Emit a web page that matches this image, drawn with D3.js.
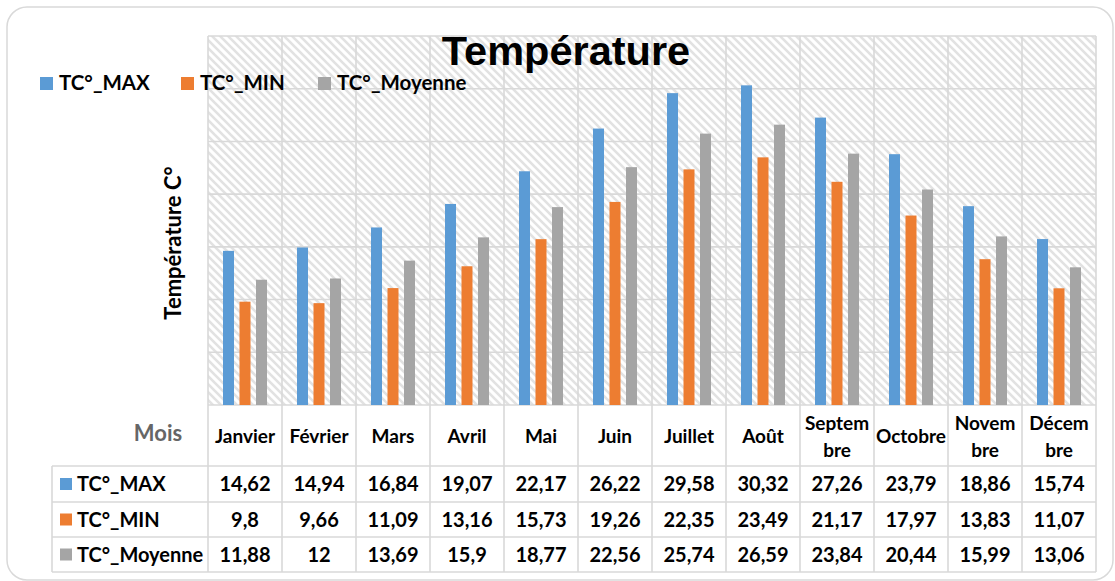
<!DOCTYPE html>
<html><head><meta charset="utf-8">
<script src="https://cdn.jsdelivr.net/npm/d3@7"></script>
<style>html,body{margin:0;padding:0;background:#fff;}svg{display:block;}</style>
</head><body>
<svg id="c" width="1115" height="581"></svg>
<script>
const months = ["Janvier","Février","Mars","Avril","Mai","Juin","Juillet","Août","Septembre","Octobre","Novembre","Décembre"];
const monthLabels = [["Janvier"],["Février"],["Mars"],["Avril"],["Mai"],["Juin"],["Juillet"],["Août"],["Septem","bre"],["Octobre"],["Novem","bre"],["Décem","bre"]];
const seriesNames = ["TC°_MAX","TC°_MIN","TC°_Moyenne"];
const tcMax = [14.62,14.94,16.84,19.07,22.17,26.22,29.58,30.32,27.26,23.79,18.86,15.74];
const tcMin = [9.8,9.66,11.09,13.16,15.73,19.26,22.35,23.49,21.17,17.97,13.83,11.07];
const tcMoy = [11.88,12,13.69,15.9,18.77,22.56,25.74,26.59,23.84,20.44,15.99,13.06];
const yTicks = [0,5,10,15,20,25,30,35];
const colors = ["#5B9BD5","#ED7D31","#A5A5A5"];
const seriesData = [tcMax, tcMin, tcMoy];

const svg = d3.select("#c");
const FONT = "Lato, 'Open Sans', sans-serif";
const fmt = v => String(v).replace(".", ",");

// outer border
svg.append("rect").attr("x",7).attr("y",7).attr("width",1106).attr("height",573)
  .attr("rx",20).attr("fill","#fff").attr("stroke","#d9d9d9").attr("stroke-width",1.5);

// hatch pattern
const defs = svg.append("defs");
const pat = defs.append("pattern").attr("id","hatch").attr("patternUnits","userSpaceOnUse")
  .attr("width",8).attr("height",8);
pat.append("rect").attr("width",8).attr("height",8).attr("fill","#fff");
pat.append("path").attr("d","M-2,-2 L10,10 M-2,6 L2,10 M6,-2 L10,2")
  .attr("stroke","#e2e2e2").attr("stroke-width",2.6);

const L = 208, R = 1096, T = 36, B = 405;
const x = d3.scaleBand().domain(months).range([L, R]).padding(0);
const cw = x.bandwidth();
const xs = d3.scaleBand().domain(seriesNames).range([15, cw - 15]).paddingInner(1/3).paddingOuter(0);
const y = d3.scaleLinear().domain([0,35]).range([B, T]);

svg.append("rect").attr("x",L).attr("y",T).attr("width",R-L).attr("height",B-T).attr("fill","url(#hatch)");

const gridC = "#d9d9d9";
// horizontal gridlines
svg.append("g").selectAll("line").data(yTicks).join("line")
  .attr("x1",L).attr("x2",R).attr("y1",d=>y(d)).attr("y2",d=>y(d))
  .attr("stroke",gridC).attr("stroke-width",1.6);

// table rows
const rowY = [B, 466, 502, 537, 572];
const TL = 52;
// vertical lines (category boundaries)
const bounds = months.map(m => x(m)).concat([R]);
svg.append("g").selectAll("line").data(bounds).join("line")
  .attr("x1",d=>d).attr("x2",d=>d).attr("y1",T).attr("y2",rowY[4])
  .attr("stroke",gridC).attr("stroke-width",1.6);
// horizontal table lines
svg.append("g").selectAll("line").data(rowY.slice(1)).join("line")
  .attr("x1",TL).attr("x2",R).attr("y1",d=>d).attr("y2",d=>d)
  .attr("stroke",gridC).attr("stroke-width",1.6);
svg.append("line").attr("x1",TL).attr("x2",TL).attr("y1",rowY[1]).attr("y2",rowY[4])
  .attr("stroke",gridC).attr("stroke-width",1.6);

// bars
seriesData.forEach((vals, si) => {
  svg.append("g").selectAll("rect").data(vals).join("rect")
    .attr("x",(d,i)=>x(months[i]) + xs(seriesNames[si]))
    .attr("width",xs.bandwidth())
    .attr("y",d=>y(d)).attr("height",d=>y(0)-y(d))
    .attr("fill",colors[si]);
});

// title
svg.append("text").attr("x",566).attr("y",65).attr("text-anchor","middle")
  .attr("font-family","'Liberation Sans', Arial, sans-serif").attr("font-weight","bold")
  .attr("font-size",41.5).attr("fill","#000").text("Température");

// legend
const legX = [40,181,318];
seriesNames.forEach((s,i)=>{
  svg.append("rect").attr("x",legX[i]).attr("y",77).attr("width",13).attr("height",13).attr("fill",colors[i]);
  svg.append("text").attr("x",legX[i]+19).attr("y",90).attr("font-family",FONT).attr("font-weight","bold")
    .attr("font-size",20.5).attr("fill","#000").text(s);
});

// y axis title
svg.append("text").attr("transform","translate(181,243) rotate(-90)").attr("text-anchor","middle")
  .attr("font-family",FONT).attr("font-weight","bold").attr("font-size",22).attr("fill","#000")
  .text("Température C°");

// "Mois"
svg.append("text").attr("x",158).attr("y",441).attr("text-anchor","middle")
  .attr("font-family",FONT).attr("font-weight","bold").attr("font-size",22).attr("fill","#666")
  .text("Mois");

// month labels
monthLabels.forEach((lines,i)=>{
  const cx = x(months[i]) + cw/2;
  const t = svg.append("text").attr("text-anchor","middle").attr("font-family",FONT)
    .attr("font-weight","bold").attr("font-size",19).attr("fill","#000");
  if (lines.length === 1) {
    t.append("tspan").attr("x",cx).attr("y",443).text(lines[0]);
  } else {
    t.append("tspan").attr("x",cx).attr("y",430).text(lines[0]);
    t.append("tspan").attr("x",cx).attr("y",457).text(lines[1]);
  }
});

// table rows
seriesData.forEach((vals, si)=>{
  const cy = (rowY[si+1] + rowY[si+2]) / 2;
  svg.append("rect").attr("x",60).attr("y",cy-6).attr("width",12).attr("height",12).attr("fill",colors[si]);
  svg.append("text").attr("x",77).attr("y",cy+7).attr("font-family",FONT).attr("font-weight","bold")
    .attr("font-size",20).attr("fill","#000").text(seriesNames[si]);
  svg.append("g").selectAll("text").data(vals).join("text")
    .attr("x",(d,i)=>x(months[i]) + cw/2).attr("y",cy+7).attr("text-anchor","middle")
    .attr("font-family",FONT).attr("font-weight","bold").attr("font-size",20).attr("fill","#000")
    .text(d=>fmt(d));
});
</script>
</body></html>
